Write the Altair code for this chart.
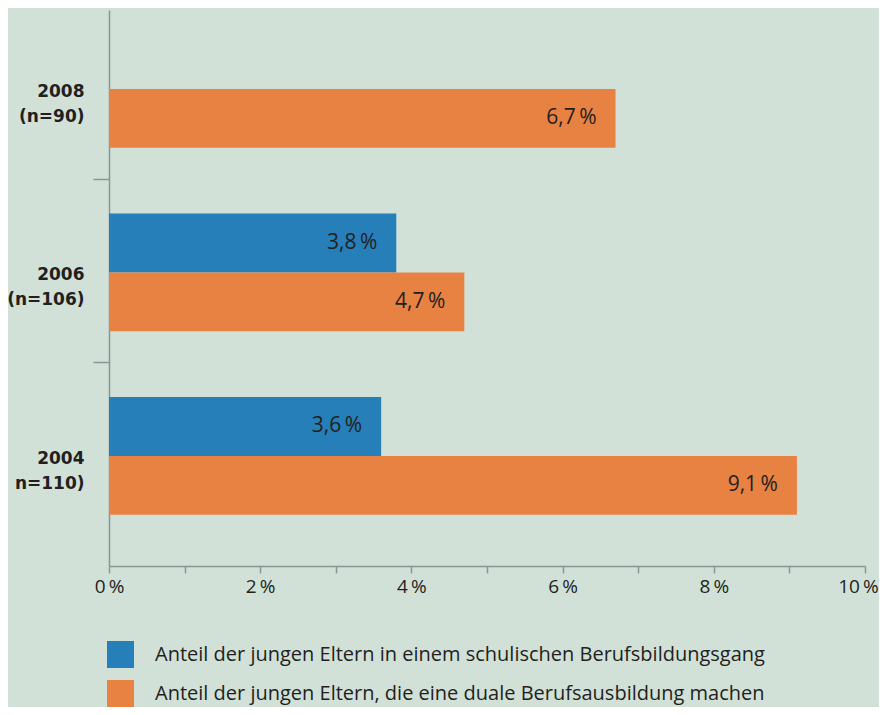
import altair as alt
import pandas as pd

# ---- data ----
years = ["2008", "2006", "2004"]
sample_labels = ["(n=90)", "(n=106)", "n=110)"]
series_names = [
    "Anteil der jungen Eltern in einem schulischen Berufsbildungsgang",
    "Anteil der jungen Eltern, die eine duale Berufsausbildung machen",
]
schulisch = [None, 3.8, 3.6]
dual = [6.7, 4.7, 9.1]
x_tick_values = [0, 1, 2, 3, 4, 5, 6, 7, 8, 9, 10]

BLUE = "#267fb9"
ORANGE = "#e88242"
BG = "#d1e1d8"
AXIS = "#8c9595"
TEXT = "#231f20"
FONT = "Open Sans"
BOLD_FONT = "DejaVu Sans"

cats = [f"{y}|{n}" for y, n in zip(years, sample_labels)]
rows = []
for cat, s, d in zip(cats, schulisch, dual):
    for name, v in ((series_names[0], s), (series_names[1], d)):
        if v is None:
            continue
        rows.append({
            "cat": cat,
            "series": name,
            "value": v,
            "label": f"{v:.1f}".replace(".", ",") + "\u2009%",
        })
df = pd.DataFrame(rows)

base = alt.Chart(df).encode(
    y=alt.Y(
        "cat:N",
        sort=cats,
        title=None,
        scale=alt.Scale(paddingInner=0.357, paddingOuter=0.1935, align=0.28),
        axis=alt.Axis(
            labelExpr="split(datum.value, '|')",
            labelFont=BOLD_FONT,
            labelFontWeight="bold",
            labelFontSize=17,
            labelColor=TEXT,
            labelLineHeight=25,
            labelPadding=9,
            labelOffset=3,
            labelAlign="right",
            labelBaseline="middle",
            tickSize=16,
            tickColor=AXIS,
            tickWidth=1.5,
            domainColor=AXIS,
            domainWidth=1.5,
            bandPosition=-0.29,
            labelLimit=300,
        ),
    ),
    yOffset=alt.YOffset(
        "series:N",
        sort=series_names,
        scale=alt.Scale(domain=series_names, paddingInner=0, paddingOuter=0),
    ),
)

bars = base.mark_bar(cornerRadius=0).encode(
    x=alt.X(
        "value:Q",
        title=None,
        scale=alt.Scale(domain=[0, 10], nice=False, zero=True),
        axis=alt.Axis(
            values=x_tick_values,
            labelExpr="datum.value % 2 == 0 ? datum.value + '\u2009%' : ''",
            labelFont=FONT,
            labelFontSize=19,
            labelColor=TEXT,
            labelFlush=False,
            labelOverlap=False,
            labelPadding=4,
            labelOffset={"condition": {"test": "datum.value == 10", "value": -7}, "value": 0},
            tickSize=7,
            tickColor=AXIS,
            tickWidth=1.5,
            domainColor=AXIS,
            domainWidth=1.5,
            grid=False,
        ),
    ),
    color=alt.Color(
        "series:N",
        scale=alt.Scale(domain=series_names, range=[BLUE, ORANGE]),
        legend=alt.Legend(
            title=None,
            orient="none",
            legendX=-2,
            legendY=631,
            direction="vertical",
            symbolType="square",
            symbolSize=729,
            symbolStrokeWidth=0,
            symbolOpacity=1,
            labelFont=FONT,
            labelFontSize=20,
            labelColor=TEXT,
            labelLimit=1000,
            labelOffset=21,
            rowPadding=12,
            padding=0,
        ),
    ),
)

texts = base.mark_text(
    align="right",
    baseline="middle",
    dx=-19,
    font=FONT,
    fontSize=21,
    color=TEXT,
).encode(
    x=alt.X("value:Q"),
    text=alt.Text("label:N"),
)

chart = (
    alt.layer(bars, texts)
    .properties(
        width=756,
        height=556,
        autosize=alt.AutoSizeParams(type="none"),
        padding={"left": 101, "top": 2, "right": 14, "bottom": 141},
        background=BG,
    )
    .configure_view(stroke=None)
)

chart.save("out.html", embed_options={"renderer": "svg", "actions": False})
